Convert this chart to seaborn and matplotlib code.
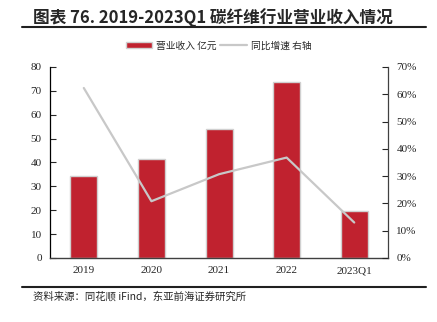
import matplotlib
matplotlib.use("Agg")
import matplotlib.pyplot as plt
import seaborn as sns
import pandas as pd
from matplotlib.patches import Patch
from matplotlib.lines import Line2D

categories = ["2019", "2020", "2021", "2022", "2023Q1"]
revenue = [34.3, 41.3, 53.9, 73.8, 19.7]
growth = [62.3, 20.8, 30.7, 36.8, 13.0]
left_ticks = [0, 10, 20, 30, 40, 50, 60, 70, 80]
right_ticks = [0, 10, 20, 30, 40, 50, 60, 70]

sns.set_style("white")
plt.rcParams['font.family'] = ['Liberation Serif', 'Noto Sans CJK SC']
cjk = ['Noto Sans CJK SC', 'Liberation Serif']

df = pd.DataFrame({"cat": categories, "rev": revenue, "g": growth})

fig = plt.figure(figsize=(4.37, 3.22), dpi=100)
ax = fig.add_axes([0.1144, 0.1988, 0.7736, 0.5932])
bar_color = "#C0222F"
sns.barplot(data=df, x="cat", y="rev", ax=ax, color=bar_color, width=0.4,
            edgecolor="#D0D0D0", linewidth=1.0, saturation=1)
ax.set_ylim(0, 80)
ax.set_xlim(-0.5, 4.5)
ax.set_yticks(left_ticks)
ax.set_xlabel("")
ax.set_ylabel("")
ax.tick_params(axis='y', direction='in', length=4, width=0.8, labelsize=8, pad=6)
ax.tick_params(axis='x', length=0, labelsize=8, pad=6)
for s in ["top", "right"]:
    ax.spines[s].set_visible(False)
ax.spines["left"].set_color("#000000")
ax.spines["left"].set_linewidth(0.9)
ax.spines["bottom"].set_color("#404040")
ax.spines["bottom"].set_linewidth(1.0)

ax2 = ax.twinx()
sns.lineplot(x=list(range(len(categories))), y=growth, ax=ax2, color="#C8C8C8", linewidth=1.6)
ax2.set_ylim(0, 70)
ax2.set_yticks(right_ticks)
ax2.set_yticklabels([f"{t}%" for t in right_ticks])
ax2.set_xlim(-0.5, 4.5)
ax2.tick_params(axis='y', direction='in', length=4, width=0.8, labelsize=8, pad=6)
for s in ["top", "left", "bottom"]:
    ax2.spines[s].set_visible(False)
ax2.spines["right"].set_color("#404040")
ax2.spines["right"].set_linewidth(0.9)

# Title
fig.text(0.075, 0.945, "图表 76. 2019-2023Q1 碳纤维行业营业收入情况", fontsize=12,
         fontweight='bold', family=cjk, va='center', ha='left')
fig.add_artist(Line2D([0.05, 0.975], [0.915, 0.915], color='#202020', linewidth=1.5,
                      transform=fig.transFigure))
# Legend
handles = [Patch(facecolor=bar_color, edgecolor="#D0D0D0", label="营业收入 亿元"),
           Line2D([0], [0], color="#C8C8C8", linewidth=1.6, label="同比增速 右轴")]
fig.legend(handles=handles, loc='center', bbox_to_anchor=(0.5, 0.858), ncol=2, frameon=False,
           prop={'family': cjk, 'size': 7}, handlelength=2.7, handleheight=0.6,
           columnspacing=0.4, handletextpad=0.4)
# Source
fig.add_artist(Line2D([0.05, 0.975], [0.108, 0.108], color='#202020', linewidth=1.5,
                      transform=fig.transFigure))
fig.text(0.075, 0.08, "资料来源：同花顺 iFind，东亚前海证券研究所", fontsize=7.5,
         family=cjk, va='center', ha='left')

fig.savefig("out.png", dpi=100)
